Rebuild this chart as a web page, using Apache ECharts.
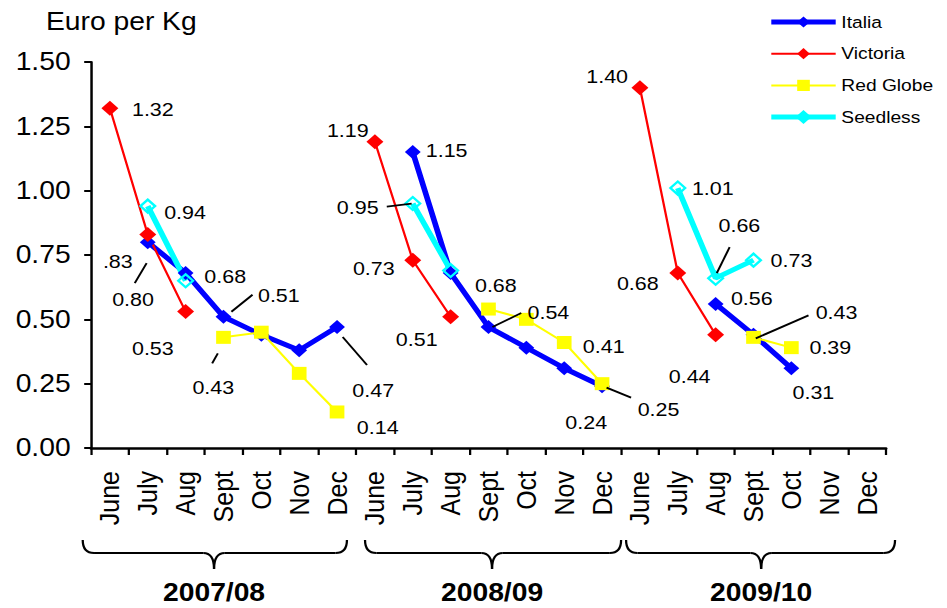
<!DOCTYPE html>
<html>
<head>
<meta charset="utf-8">
<script src="https://cdn.jsdelivr.net/npm/echarts@6/dist/echarts.min.js"></script>
<style>
  html, body { margin: 0; padding: 0; background: #fff; overflow: hidden; }
  /* the chart is laid out on a narrower canvas and widened horizontally */
  #chart { width: 838px; height: 608px; transform: scaleX(1.1301); transform-origin: 0 0; }
</style>
</head>
<body>
<div id="chart"></div>
<script>
// ---- data ----
const months  = ['June', 'July', 'Aug', 'Sept', 'Oct', 'Nov', 'Dec'];
const seasons = ['2007/08', '2008/09', '2009/10'];
const categories = seasons.flatMap(s => months.map(m => s + '|' + m));

const italia   = [null, 0.80, 0.68, 0.51, 0.44, 0.38, 0.47,  null, 1.15, 0.68, 0.47, 0.39, 0.31, 0.24,  null, null, 0.56, 0.44, 0.31, null, null];
const victoria = [1.32, 0.83, 0.53, null, null, null, null,  1.19, 0.73, 0.51, null, null, null, null,  1.40, 0.68, 0.44, null, null, null, null];
const redGlobe = [null, null, null, 0.43, 0.45, 0.29, 0.14,  null, null, null, 0.54, 0.50, 0.41, 0.25,  null, null, null, 0.43, 0.39, null, null];
const seedless = [null, 0.94, 0.65, null, null, null, null,  null, 0.95, 0.69, null, null, null, null,  null, 1.01, 0.66, 0.73, null, null, null];

const yTicks = [0, 0.25, 0.50, 0.75, 1.00, 1.25, 1.50];

// ---- label placement (offsets from the marker, optional leader line) ----
const labelSpots = {
  'Italia': {
    1:  { off: [-13, 57],  lead: [-11.5, 41, -1, 21] },
    2:  { off: [35, 3] },
    3:  { off: [49, -21],  lead: [7, -5, 25.7, -22] },
    6:  { off: [32, 63],   lead: [5, 10, 26.5, 38] },
    8:  { off: [30, -2] },
    9:  { off: [40, 12] },
    13: { off: [-14, 36] },
    16: { off: [32, -5] },
    18: { off: [19.5, 24] }
  },
  'Victoria': {
    0:  { off: [38, 1] },
    1:  { off: [-26.5, 27], short: true },
    2:  { off: [-29, 37] },
    7:  { off: [-24, -11] },
    8:  { off: [-34.5, 8] },
    9:  { off: [-30, 23] },
    14: { off: [-29, -11] },
    15: { off: [-35.4, 10] },
    16: { off: [-23, 42] }
  },
  'Red Globe': {
    3:  { off: [-9, 50],   lead: [-10, 26, -5, 16] },
    6:  { off: [36, 15] },
    10: { off: [53, 3],    lead: [3.5, 18, 29, 4] },
    12: { off: [35, 4] },
    13: { off: [50, 26],   lead: [4, 4, 25.7, 14] },
    17: { off: [73.5, -25], lead: [2, 1, 48.7, -22] },
    18: { off: [34.5, 0] }
  },
  'Seedless': {
    1:  { off: [33, 6] },
    8:  { off: [-48.7, 4], lead: [-23, 3, -1, 0] },
    15: { off: [31, 0] },
    16: { off: [21, -53],  lead: [1, -5, 12.4, -31] },
    17: { off: [33.6, 0] }
  }
};

const FONT = "'Liberation Sans', Arial, Helvetica, sans-serif";

function lineSeries(name, values, look) {
  const spots = labelSpots[name] || {};
  return {
    name: name,
    type: 'line',
    showAllSymbol: true,
    symbol: look.symbol,
    symbolSize: look.symbolSize,
    lineStyle: { color: look.color, width: look.width },
    itemStyle: look.itemStyle || { color: look.color },
    emphasis: { disabled: true },
    data: values.map((v, i) => {
      if (v === null) return '-';
      const s = spots[i];
      if (!s) return v;
      return { value: v, label: { show: true, offset: s.off } };
    }),
    label: {
      show: false,
      position: 'inside',
      color: '#000',
      fontFamily: FONT,
      fontSize: 19,
      formatter: p => {
        const txt = Number(p.value).toFixed(2);
        const s = spots[p.dataIndex];
        return s && s.short ? txt.replace(/^0/, '') : txt;
      }
    }
  };
}

const looks = {
  'Italia':    { color: '#0000FF', width: 5, symbol: 'diamond', symbolSize: 14 },
  'Victoria':  { color: '#FF0000', width: 2, symbol: 'diamond', symbolSize: 15 },
  'Red Globe': { color: '#FFFF00', width: 2, symbol: 'rect', symbolSize: 13 },
  'Seedless':  { color: '#00FFFF', width: 5, symbol: 'diamond', symbolSize: 13,
                 itemStyle: { color: 'rgba(255,255,255,0)', borderColor: '#00FFFF', borderWidth: 2.2 } }
};

const seriesList = [
  lineSeries('Italia', italia, looks['Italia']),
  lineSeries('Victoria', victoria, looks['Victoria']),
  lineSeries('Red Globe', redGlobe, looks['Red Globe']),
  lineSeries('Seedless', seedless, looks['Seedless'])
];

const chart = echarts.init(document.getElementById('chart'), null, { renderer: 'svg' });

chart.setOption({
  animation: false,
  backgroundColor: '#fff',
  grid: { left: 80.5, right: 54, top: 62, bottom: 160, containLabel: false, outerBoundsMode: 'none' },
  legend: {
    orient: 'vertical',
    left: 680,
    top: 12,
    padding: 0,
    itemWidth: 57,
    itemHeight: 14,
    itemGap: 11.7,
    selectedMode: false,
    textStyle: { fontFamily: FONT, fontSize: 17, color: '#000', lineHeight: 20 },
    data: ['Italia', 'Victoria', 'Red Globe', 'Seedless'].map(n => ({
      name: n,
      lineStyle: { width: looks[n].width, color: looks[n].color },
      itemStyle: { color: looks[n].color, borderColor: looks[n].color }
    }))
  },
  xAxis: {
    type: 'category',
    data: categories,
    boundaryGap: true,
    axisLine: { lineStyle: { color: '#000', width: 2.5 } },
    axisTick: { show: true, length: 7, lineStyle: { color: '#000', width: 2 } },
    splitLine: { show: false },
    axisLabel: {
      interval: 0,
      rotate: 90,
      margin: 23,
      color: '#000',
      fontFamily: FONT,
      fontSize: 25,
      formatter: v => v.split('|')[1]
    }
  },
  yAxis: {
    type: 'value',
    min: yTicks[0],
    max: yTicks[yTicks.length - 1],
    interval: yTicks[1] - yTicks[0],
    axisLine: { show: true, lineStyle: { color: '#000', width: 2.2 } },
    axisTick: { show: true, length: 6, lineStyle: { color: '#000', width: 2 } },
    splitLine: { show: false },
    axisLabel: {
      margin: 18,
      color: '#000',
      fontFamily: FONT,
      fontSize: 25,
      formatter: v => v.toFixed(2)
    }
  },
  series: seriesList
});

// ---- decorations: axis title, leader lines, season braces ----
const seriesValues = { 'Italia': italia, 'Victoria': victoria, 'Red Globe': redGlobe, 'Seedless': seedless };
const elements = [];

elements.push({
  type: 'text', x: 40.7, y: 22,
  style: { text: 'Euro per Kg', fill: '#000', font: '25px ' + FONT, verticalAlign: 'middle', align: 'left' }
});

Object.keys(labelSpots).forEach(name => {
  const spots = labelSpots[name];
  Object.keys(spots).forEach(k => {
    const s = spots[k];
    if (!s.lead) return;
    const i = Number(k);
    const p = chart.convertToPixel({ gridIndex: 0 }, [i, seriesValues[name][i]]);
    elements.push({
      type: 'line', z: 5,
      shape: { x1: p[0] + s.lead[0], y1: p[1] + s.lead[1], x2: p[0] + s.lead[2], y2: p[1] + s.lead[3] },
      style: { stroke: '#000', lineWidth: 1.8 }
    });
  });
});

// curly braces under each season: ends a..b, point at m
const braceTop = 540, braceLine = 553, braceTip = 569, braceR = 10, tipR = 9.5;
const braces = [
  { a: 73.2, b: 307, m: 189.4 },
  { a: 323, b: 549.6, m: 435.4 },
  { a: 554, b: 792, m: 673.5 }
];
const braceStyle = { stroke: '#000', lineWidth: 2, fill: null };
function curve(x1, y1, cx, cy, x2, y2) {
  return { type: 'bezierCurve', shape: { x1: x1, y1: y1, cpx1: cx, cpy1: cy, x2: x2, y2: y2 }, style: braceStyle };
}
function seg(x1, y1, x2, y2) {
  return { type: 'line', shape: { x1: x1, y1: y1, x2: x2, y2: y2 }, style: braceStyle };
}
braces.forEach((br, k) => {
  elements.push(curve(br.a, braceTop, br.a, braceLine, br.a + braceR, braceLine));
  elements.push(seg(br.a + braceR, braceLine, br.m - tipR, braceLine));
  elements.push(curve(br.m - tipR, braceLine, br.m, braceLine, br.m, braceTip));
  elements.push(curve(br.m, braceTip, br.m, braceLine, br.m + tipR, braceLine));
  elements.push(seg(br.m + tipR, braceLine, br.b - braceR, braceLine));
  elements.push(curve(br.b - braceR, braceLine, br.b, braceLine, br.b, braceTop));
  elements.push({
    type: 'text', x: br.m, y: 593,
    style: { text: seasons[k], fill: '#000', font: 'bold 25px ' + FONT, align: 'center', verticalAlign: 'middle' }
  });
});

chart.setOption({ graphic: { elements: elements } });
</script>
</body>
</html>
